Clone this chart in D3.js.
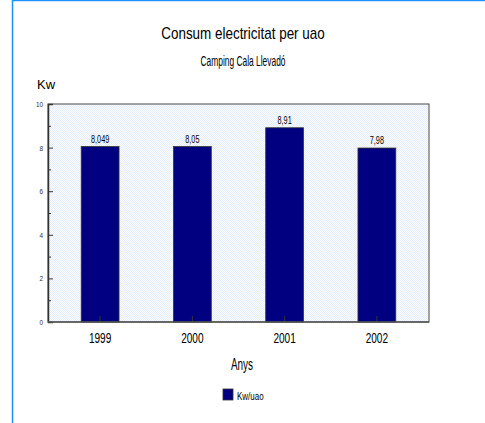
<!DOCTYPE html>
<html>
<head>
<meta charset="utf-8">
<script src="https://cdn.jsdelivr.net/npm/d3@7"></script>
<style>
  body { margin: 0; background: #fff; }
  text { font-family: "Liberation Sans", Arial, sans-serif; fill: #000; }
</style>
</head>
<body>
<div class="chart"></div>
<script>
// consum electricitat per uao, barres per any

var years = ["1999", "2000", "2001", "2002"];
var kwUao = [8.049, 8.05, 8.91, 7.98];
var valueLabels = ["8,049", "8,05", "8,91", "7,98"];
var yTicks = [0, 2, 4, 6, 8, 10];
var yMinorTicks = [1, 3, 5, 7, 9];

var width = 485,
    height = 423;

var plot = {left: 48, right: 429, top: 104, bottom: 322};

var svg = d3.select(".chart").append("svg")
    .attr("width", width)
    .attr("height", height);

/* text estret, com a l'original */
function squeeze(sel, k) {
  sel.each(function() {
    var w = this.getComputedTextLength();
    d3.select(this).attr("textLength", w * k).attr("lengthAdjust", "spacingAndGlyphs");
  });
}

/* marc blau */
svg.append("path")
    .attr("d", "M12.5," + height + "V0.5H" + width)
    .attr("fill", "none")
    .attr("stroke", "#1e90ff")
    .attr("stroke-width", 1.5);

/* patró de fons */
var pat = svg.append("defs").append("pattern")
    .attr("id", "chk")
    .attr("width", 2).attr("height", 2)
    .attr("patternUnits", "userSpaceOnUse");
pat.append("rect").attr("width", 2).attr("height", 2).attr("fill", "#ffffff");
pat.append("rect").attr("width", 1).attr("height", 1).attr("fill", "#e2ecfc");
pat.append("rect").attr("x", 1).attr("y", 1).attr("width", 1).attr("height", 1).attr("fill", "#e2ecfc");

/* scales */
var x = d3.scaleBand().domain(years).range([54, 423]);
var y = d3.scaleLinear().domain([0, 10]).range([plot.bottom, plot.top]);
var barW = x.bandwidth() * 0.41;

svg.append("rect")
    .attr("x", plot.left).attr("y", plot.top)
    .attr("width", plot.right - plot.left)
    .attr("height", plot.bottom - plot.top)
    .attr("fill", "url(#chk)")
    .attr("stroke", "#4a4a4a")
    .attr("stroke-width", 1);

/* barres */
svg.selectAll(".bar")
    .data(kwUao)
    .enter().append("rect")
    .attr("class", "bar")
    .attr("x", function(d, i) { return x(years[i]) + x.bandwidth() / 2 - barW / 2; })
    .attr("y", function(d) { return y(d); })
    .attr("width", barW)
    .attr("height", function(d) { return y(0) - y(d); })
    .attr("fill", "#000080")
    .attr("stroke", "#333")
    .attr("stroke-width", 0.8);

/* Y axis */
var yAxis = svg.append("g")
    .attr("transform", "translate(" + plot.left + ",0)")
    .call(d3.axisRight(y).tickValues(yTicks).tickSize(5).tickFormat(""));
yAxis.select(".domain").attr("stroke", "#333").attr("stroke-width", 1.5);
yAxis.selectAll(".tick line").attr("stroke", "#333");

svg.append("g")
    .attr("transform", "translate(" + plot.left + ",0)")
    .call(d3.axisRight(y).tickValues(yMinorTicks).tickSize(3).tickFormat(""))
    .call(function(g) { g.select(".domain").remove(); })
    .selectAll(".tick line").attr("stroke", "#333");

svg.selectAll(".ylab")
    .data(yTicks)
    .enter().append("text")
    .attr("class", "ylab")
    .attr("x", plot.left - 5)
    .attr("y", function(d) { return y(d) + 3; })
    .attr("text-anchor", "end")
    .attr("font-size", 8)
    .style("fill", "#333")
    .text(function(d) { return d; })
    .call(squeeze, 0.8);

/* X axis */
var xAxis = svg.append("g")
    .attr("transform", "translate(0," + plot.bottom + ")")
    .call(d3.axisTop(x).tickSize(6).tickFormat(""));
xAxis.select(".domain").remove();
xAxis.selectAll(".tick line").attr("stroke", "#333");

svg.append("line")
    .attr("x1", plot.left).attr("x2", plot.right)
    .attr("y1", plot.bottom).attr("y2", plot.bottom)
    .attr("stroke", "#555").attr("stroke-width", 1.5);

svg.selectAll(".xlab")
    .data(years)
    .enter().append("text")
    .attr("class", "xlab")
    .attr("x", function(d) { return x(d) + x.bandwidth() / 2; })
    .attr("y", 343)
    .attr("text-anchor", "middle")
    .attr("font-size", 14)
    .text(function(d) { return d; })
    .call(squeeze, 0.72);

/* etiquetes de valor */
svg.selectAll(".vlab")
    .data(kwUao)
    .enter().append("text")
    .attr("class", "vlab")
    .attr("x", function(d, i) { return x(years[i]) + x.bandwidth() / 2; })
    .attr("y", function(d) { return y(d) - 4; })
    .attr("text-anchor", "middle")
    .attr("font-size", 11)
    .text(function(d, i) { return valueLabels[i]; })
    .call(squeeze, 0.66);

/* títols */
svg.append("text")
    .attr("x", 243).attr("y", 39)
    .attr("text-anchor", "middle")
    .attr("font-size", 17)
    .text("Consum electricitat per uao")
    .call(squeeze, 0.79);

svg.append("text")
    .attr("x", 243).attr("y", 66)
    .attr("text-anchor", "middle")
    .attr("font-size", 15)
    .text("Camping Cala Llevadó")
    .call(squeeze, 0.56);

svg.append("text")
    .attr("x", 37).attr("y", 89)
    .attr("font-size", 13)
    .text("Kw")
    .call(squeeze, 1.0);

svg.append("text")
    .attr("x", 242).attr("y", 370)
    .attr("text-anchor", "middle")
    .attr("font-size", 16)
    .text("Anys")
    .call(squeeze, 0.62);

/* llegenda */
svg.append("rect")
    .attr("x", 223).attr("y", 389)
    .attr("width", 10).attr("height", 11)
    .attr("fill", "#000080")
    .attr("stroke", "#333")
    .attr("stroke-width", 0.8);

svg.append("text")
    .attr("x", 237).attr("y", 400)
    .attr("font-size", 10)
    .text("Kw/uao")
    .call(squeeze, 0.8);
</script>
</body>
</html>
